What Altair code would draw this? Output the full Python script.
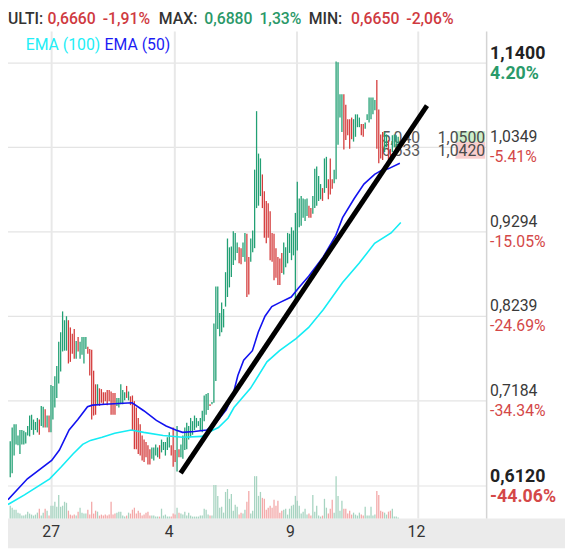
import altair as alt
import pandas as pd

# ---------------- data ----------------
HIGHS = [
    0.668, 0.685, 0.689, 0.689, 0.675, 0.682, 0.682, 0.681, 0.679, 0.687,
    0.700, 0.701, 0.695, 0.692, 0.697, 0.695, 0.712, 0.711, 0.708, 0.700,
    0.700, 0.738, 0.737, 0.749, 0.762, 0.792, 0.804, 0.830, 0.819, 0.824,
    0.819, 0.810, 0.802, 0.808, 0.793, 0.798, 0.792, 0.798, 0.798, 0.798,
    0.786, 0.783, 0.782, 0.756, 0.739, 0.739, 0.734, 0.733, 0.729, 0.729,
    0.732, 0.732, 0.730, 0.728, 0.728, 0.722, 0.722, 0.739, 0.732, 0.729,
    0.737, 0.730, 0.724, 0.725, 0.718, 0.710, 0.697, 0.689, 0.675, 0.670,
    0.667, 0.663, 0.658, 0.660, 0.660, 0.664, 0.660, 0.663, 0.670, 0.667,
    0.667, 0.673, 0.679, 0.663, 0.685, 0.657, 0.687, 0.658, 0.664, 0.675,
    0.685, 0.691, 0.687, 0.697, 0.693, 0.700, 0.697, 0.693, 0.697, 0.706,
    0.725, 0.727, 0.728, 0.714, 0.717, 0.815, 0.861, 0.861, 0.828, 0.841,
    0.833, 0.879, 0.921, 0.910, 0.911, 0.930, 0.928, 0.916, 0.910, 0.909,
    0.916, 0.928, 0.927, 0.898, 0.921, 0.931, 1.007, 1.080, 1.027, 1.021,
    1.001, 0.980, 0.968, 0.965, 0.955, 0.928, 0.927, 0.909, 0.898, 0.896,
    0.903, 0.916, 0.910, 0.928, 0.927, 0.935, 0.931, 0.953, 0.992, 0.971,
    0.974, 0.971, 0.970, 0.971, 0.962, 0.959, 0.974, 1.008, 1.011, 0.999,
    0.989, 0.984, 1.021, 1.023, 0.995, 1.021, 0.995, 1.007, 1.142, 1.141,
    1.101, 1.101, 1.101, 1.088, 1.070, 1.070, 1.072, 1.070, 1.076, 1.076,
    1.072, 1.064, 1.064, 1.066, 1.076, 1.097, 1.097, 1.097, 1.094, 1.119,
    1.082, 1.051, 1.054, 1.054, 1.051, 1.044, 1.033, 1.050, 1.051, 1.050,
    1.048,
]
LOWS = [
    0.623, 0.628, 0.650, 0.664, 0.663, 0.652, 0.664, 0.664, 0.665, 0.675,
    0.674, 0.682, 0.676, 0.682, 0.679, 0.676, 0.687, 0.685, 0.685, 0.685,
    0.679, 0.679, 0.695, 0.710, 0.722, 0.740, 0.755, 0.780, 0.781, 0.781,
    0.765, 0.767, 0.777, 0.771, 0.771, 0.780, 0.771, 0.776, 0.765, 0.783,
    0.777, 0.750, 0.695, 0.700, 0.701, 0.713, 0.712, 0.716, 0.714, 0.718,
    0.713, 0.718, 0.701, 0.701, 0.701, 0.712, 0.710, 0.714, 0.714, 0.719,
    0.722, 0.719, 0.713, 0.682, 0.658, 0.658, 0.652, 0.650, 0.644, 0.642,
    0.648, 0.639, 0.639, 0.646, 0.644, 0.650, 0.648, 0.646, 0.654, 0.657,
    0.650, 0.657, 0.660, 0.650, 0.636, 0.642, 0.630, 0.648, 0.648, 0.646,
    0.657, 0.658, 0.670, 0.673, 0.676, 0.682, 0.685, 0.687, 0.681, 0.679,
    0.693, 0.701, 0.707, 0.712, 0.714, 0.716, 0.743, 0.808, 0.799, 0.804,
    0.810, 0.836, 0.848, 0.860, 0.873, 0.888, 0.894, 0.903, 0.890, 0.889,
    0.898, 0.892, 0.848, 0.851, 0.892, 0.904, 0.909, 0.959, 0.962, 0.974,
    0.959, 0.922, 0.915, 0.922, 0.894, 0.892, 0.869, 0.872, 0.863, 0.863,
    0.878, 0.876, 0.885, 0.890, 0.903, 0.894, 0.900, 0.839, 0.906, 0.935,
    0.937, 0.947, 0.943, 0.949, 0.947, 0.947, 0.952, 0.959, 0.962, 0.968,
    0.970, 0.968, 0.978, 0.984, 0.970, 0.976, 0.983, 0.990, 0.995, 1.038,
    1.072, 1.054, 1.032, 1.044, 1.050, 1.033, 1.045, 1.042, 1.048, 1.060,
    1.060, 1.050, 1.048, 1.058, 1.069, 1.066, 1.070, 1.076, 1.081, 1.033,
    1.015, 1.021, 1.019, 1.029, 1.035, 1.019, 1.017, 1.029, 1.035, 1.035,
    1.039,
]
DIRS = (
    "uuuuuuuuuuuuuuu" "d" "uu" "d" "u" "d" "uuuuuuuuu" "dddd" "u" "d" "uuuu"
    "ddddd" "u" "ddddddddd" "uuuuu" "d" "u" "ddddddddddd" "uuuu" "d" "uuuuu"
    "ddd" "u" "d" "uuuuuuuuuuuuuuu" "d" "uuuuuuuuuuuuuu" "dd" "uu" "dd"
    "uuuuuu" "ddddddddddd" "uuuuuuuuuuuuu" "dd" "uuuuu" "d" "uu" "ddd" "uuuuu"
    "ddddd" "uuuu" "dd" "uuuuuu" "dddd" "uu" "dd" "uuuu"
)
VOLS = [
    13, 11, 9, 9, 6, 5, 3, 3, 4, 7, 5, 4, 3, 4, 6, 10, 3, 6, 10, 8,
    3, 13, 13, 17, 12, 24, 12, 13, 17, 16, 8, 4, 3, 4, 3, 7, 11, 6, 5, 5,
    9, 4, 17, 5, 8, 7, 3, 4, 3, 4, 3, 4, 17, 4, 5, 6, 7, 7, 3, 2,
    3, 6, 5, 9, 11, 5, 8, 6, 3, 4, 6, 7, 3, 3, 3, 2, 2, 2, 10, 3,
    4, 2, 2, 2, 5, 4, 11, 6, 5, 4, 7, 3, 6, 3, 2, 2, 2, 2, 3, 3,
    10, 9, 4, 3, 3, 34, 34, 23, 11, 12, 6, 27, 30, 20, 25, 8, 14, 12, 4, 6,
    5, 9, 17, 28, 5, 8, 43, 43, 23, 27, 21, 20, 9, 11, 13, 11, 19, 13, 18, 6,
    8, 9, 10, 4, 10, 13, 14, 23, 18, 13, 5, 7, 10, 4, 5, 3, 24, 7, 13, 3,
    2, 3, 20, 11, 5, 10, 19, 6, 43, 23, 8, 18, 10, 10, 5, 8, 4, 6, 4, 3,
    6, 4, 3, 12, 3, 3, 12, 3, 4, 28, 24, 8, 7, 6, 4, 7, 8, 10, 2, 2,
    1,
]

EMA50_IDX = [-1.15, 8.85, 21.35, 25.35, 30.35, 34.85, 39.85, 42.35, 48.85, 62.85,
             68.85, 75.35, 80.35, 85.35, 88.85, 94.85, 101.35, 105.35, 111.35, 114.85,
             117.35, 120.35, 124.85, 127.85, 131.35, 134.85, 138.85, 144.85, 148.85, 153.85,
             161.35, 167.85, 171.35, 177.35, 182.35, 187.85, 191.35, 194.85, 200.85]
EMA50_VAL = [0.595, 0.621, 0.644, 0.657, 0.682, 0.695, 0.711, 0.713, 0.714, 0.716,
             0.706, 0.694, 0.687, 0.682, 0.679, 0.680, 0.682, 0.689, 0.707, 0.726,
             0.750, 0.769, 0.781, 0.804, 0.824, 0.836, 0.841, 0.848, 0.860, 0.874,
             0.898, 0.925, 0.947, 0.971, 0.989, 1.001, 1.006, 1.008, 1.015]
EMA100_IDX = [-1.15, 7.35, 20.35, 26.35, 32.35, 37.35, 41.35, 47.35, 53.85, 62.35,
              68.85, 78.85, 88.85, 98.85, 103.85, 107.35, 112.35, 115.35, 123.85, 132.35,
              138.85, 147.35, 153.85, 161.35, 171.35, 179.85, 187.85, 196.35, 201.35]
EMA100_VAL = [0.589, 0.601, 0.621, 0.636, 0.652, 0.664, 0.669, 0.673, 0.678, 0.682,
              0.679, 0.675, 0.673, 0.674, 0.681, 0.685, 0.697, 0.710, 0.734, 0.767,
              0.781, 0.796, 0.810, 0.832, 0.866, 0.890, 0.915, 0.928, 0.941]

TREND_IDX = [87.85, 214.85]
TREND_VAL = [0.628, 1.087]

GRID_PRICES = [1.14, 1.0349, 0.9294, 0.8239, 0.7184, 0.612]
PRICE_LABELS = ["1,1400", "1,0349", "0,9294", "0,8239", "0,7184", "0,6120"]
PCT_LABELS = ["4.20%", "-5.41%", "-15.05%", "-24.69%", "-34.34%", "-44.06%"]
BOLD = [True, False, False, False, False, True]
DAY_GRID = [21.35, 84.85, 147.85, 210.35]
DAY_LABEL_POS = [21.1, 81.9, 144.4, 209.4]
DAY_LABELS = ["27", "4", "9", "12"]

LAST_LABELS = ["1,0500", "1,0420"]
GHOST_LABELS = ["5,040", "6,533"]

HEADER_TEXT = ["ULTI:", "0,6660", "-1,91%", "MAX:", "0,6880", "1,33%", "MIN:", "0,6650", "-2,06%"]
HEADER_KIND = ["k", "r", "r", "k", "g", "g", "k", "r", "r"]
HEADER_X = [0, 40, 96, 153, 199, 255, 305, 348, 404]

# ---------------- styling ----------------
W, H = 485, 494
GREEN, RED = "#22a074", "#d43c3c"
VGREEN, VRED = "#a7d4c1", "#f3a8a8"
FONT = "Roboto"
KIND_COL = {"k": "#333333", "r": "#cf3a3f", "g": "#2a9868"}
XS = alt.Scale(domain=[-1.15, 245.35], nice=False, zero=False)
YS = alt.Scale(domain=[0.5714, 1.1794], nice=False, zero=False)
PIX = alt.Scale(domain=[0, W], range=[0, W], nice=False, zero=False)
PIXY = alt.Scale(domain=[0, H], range=[0, H], nice=False, zero=False)

n = len(HIGHS)
bars = pd.DataFrame({"i": list(range(n)), "high": HIGHS, "low": LOWS,
                     "dir": list(DIRS[:n]), "vol": VOLS[:n]})
ema50 = pd.DataFrame({"i": EMA50_IDX, "v": EMA50_VAL})
ema100 = pd.DataFrame({"i": EMA100_IDX, "v": EMA100_VAL})
trend = pd.DataFrame({"i": TREND_IDX, "v": TREND_VAL})
grid = pd.DataFrame({"p": GRID_PRICES, "lab": PRICE_LABELS, "pct": PCT_LABELS, "bold": BOLD})
grid["pcol"] = ["#2a9a6a" if not s.startswith("-") else "#d44848" for s in PCT_LABELS]
gb = grid[grid.bold].copy()
gn = grid[~grid.bold].copy()
days = pd.DataFrame({"g": DAY_GRID, "lp": DAY_LABEL_POS, "lab": DAY_LABELS})
header = pd.DataFrame({"t": HEADER_TEXT, "c": [KIND_COL[k] for k in HEADER_KIND], "x": HEADER_X})
one = pd.DataFrame({"a": [0]})


def X(f):
    return alt.X(f, scale=XS, axis=None)


def Y(f):
    return alt.Y(f, scale=YS, axis=None)


strip = alt.Chart(one).mark_rect(color="#ebebeb").encode(
    x=alt.value(-10), x2=alt.value(600), y=alt.value(H), y2=alt.value(H + 30))
hgrid = alt.Chart(grid).mark_rule(color="#e4e4e4", strokeWidth=1.2).encode(
    y=Y("p:Q"), x=alt.value(0), x2=alt.value(W))
vgrid = alt.Chart(days).mark_rule(color="#e8e8e8", strokeWidth=2).encode(
    x=X("g:Q"), y=alt.value(0), y2=alt.value(H))
sep = alt.Chart(one).mark_rule(color="#d4d4d4", strokeWidth=1.5).encode(
    x=alt.value(W + 0.5), y=alt.value(0), y2=alt.value(H))

vol = alt.Chart(bars).mark_rule(strokeWidth=1.3).encode(
    x=X("i:Q"),
    y=alt.Y("vol:Q", scale=alt.Scale(domain=[0, H], nice=False), axis=None),
    y2=alt.datum(0),
    color=alt.Color("dir:N", scale=alt.Scale(domain=["u", "d"], range=[VGREEN, VRED]), legend=None))

ghost = alt.Chart(pd.DataFrame({"t": GHOST_LABELS, "yy": [113, 126]})).mark_text(
    font=FONT, fontSize=16, color="#5a5a5a", align="left", baseline="alphabetic").encode(
    x=alt.value(379), y=alt.Y("yy:Q", scale=PIXY, axis=None), text="t:N")

candles = alt.Chart(bars).mark_rule(strokeWidth=1.3).encode(
    x=X("i:Q"), y=Y("high:Q"), y2="low:Q",
    color=alt.Color("dir:N", scale=alt.Scale(domain=["u", "d"], range=[GREEN, RED]), legend=None))

l100 = alt.Chart(ema100).mark_line(color="#14ecf4", strokeWidth=1.6).encode(x=X("i:Q"), y=Y("v:Q"))
l50 = alt.Chart(ema50).mark_line(color="#1212f0", strokeWidth=1.6).encode(x=X("i:Q"), y=Y("v:Q"))
tline = alt.Chart(trend).mark_line(color="black", strokeWidth=5).encode(x=X("i:Q"), y=Y("v:Q"))

plab_n = alt.Chart(gn).mark_text(font=FONT, fontSize=16, align="left", baseline="alphabetic",
                                 dy=-5, color="#3a3a3a").encode(
    x=alt.value(489), y=Y("p:Q"), text="lab:N")
plab_b = alt.Chart(gb).mark_text(font=FONT, fontSize=18, align="left", baseline="alphabetic",
                                 dy=-4, color="#222222", fontWeight="bold").encode(
    x=alt.value(489), y=Y("p:Q"), text="lab:N")
pct_n = alt.Chart(gn).mark_text(font=FONT, fontSize=16, align="left", baseline="alphabetic",
                                dy=15).encode(
    x=alt.value(489), y=Y("p:Q"), text="pct:N", color=alt.Color("pcol:N", scale=None))
pct_b = alt.Chart(gb).mark_text(font=FONT, fontSize=18, align="left", baseline="alphabetic",
                                dy=16, fontWeight="bold").encode(
    x=alt.value(489), y=Y("p:Q"), text="pct:N", color=alt.Color("pcol:N", scale=None))

boxg = alt.Chart(one).mark_rect(color="#cdf0cd").encode(
    x=alt.value(454), x2=alt.value(W - 1), y=alt.value(101), y2=alt.value(112))
boxr = alt.Chart(one).mark_rect(color="#f9cece").encode(
    x=alt.value(454), x2=alt.value(W - 1), y=alt.value(112), y2=alt.value(129))
lastp = alt.Chart(pd.DataFrame({"t": LAST_LABELS, "yy": [113, 126]})).mark_text(
    font=FONT, fontSize=16, color="#4a4a4a", align="right", baseline="alphabetic").encode(
    x=alt.value(W - 1), y=alt.Y("yy:Q", scale=PIXY, axis=None), text="t:N")

dlab = alt.Chart(days).mark_text(font=FONT, fontSize=16, color="#333333", align="center",
                                 baseline="alphabetic").encode(
    x=X("lp:Q"), y=alt.value(513), text="lab:N")

head = alt.Chart(header).mark_text(font=FONT, fontSize=16, fontWeight=500, align="left",
                                   baseline="alphabetic").encode(
    x=alt.X("x:Q", scale=PIX, axis=None),
    y=alt.value(-8), text="t:N", color=alt.Color("c:N", scale=None))
leg = alt.Chart(pd.DataFrame({"t": ["EMA (100)", "EMA (50)"], "c": ["#22eef6", "#1c1cf4"],
                              "x": [18, 98]})).mark_text(
    font=FONT, fontSize=16, align="left", baseline="alphabetic").encode(
    x=alt.X("x:Q", scale=PIX, axis=None),
    y=alt.value(19), text="t:N", color=alt.Color("c:N", scale=None))

chart = alt.layer(
    strip, hgrid, vgrid, sep, vol, ghost, candles, l100, l50, tline,
    boxg, boxr, lastp, plab_n, plab_b, pct_n, pct_b, dlab, head, leg
).resolve_scale(y="independent", x="independent", color="independent").properties(
    width=W, height=H,
    padding={"left": 0, "top": 20, "right": 80, "bottom": 27},
    autosize=alt.AutoSizeParams(type="none"),
).configure_view(stroke=None)

chart.save("out.html", embed_options={"renderer": "svg", "actions": False})
